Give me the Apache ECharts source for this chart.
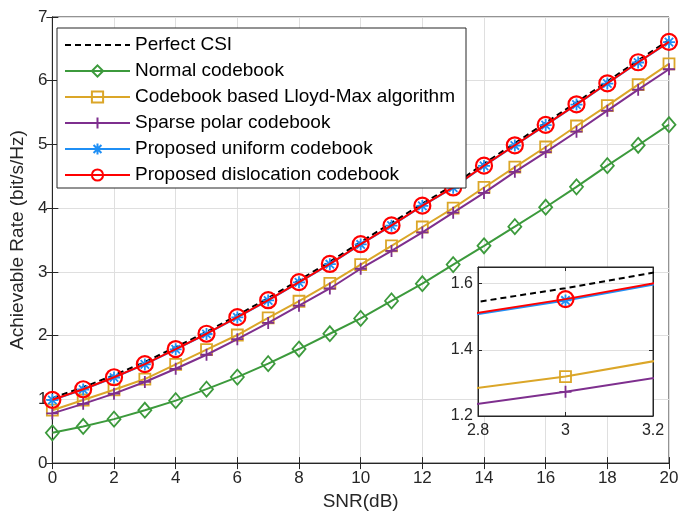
<!DOCTYPE html>
<html><head><meta charset="utf-8">
<script src="https://cdn.jsdelivr.net/npm/echarts@6/dist/echarts.min.js"></script>
<style>html,body{margin:0;padding:0;background:#fff}#c{width:691px;height:516px}</style>
</head><body><div id="c"></div>
<script>
var snr = [0,1,2,3,4,5,6,7,8,9,10,11,12,13,14,15,16,17,18,19,20];
var perfectCSI = [1.02,1.19,1.38,1.586,1.82,2.06,2.32,2.59,2.87,3.16,3.47,3.77,4.07,4.36,4.70,5.02,5.34,5.66,5.99,6.32,6.64];
var normalCB   = [0.475,0.575,0.69,0.83,0.98,1.16,1.35,1.56,1.79,2.03,2.27,2.545,2.815,3.115,3.41,3.71,4.015,4.335,4.667,4.987,5.31];
var lloydCB    = [0.83,0.99,1.15,1.319,1.55,1.78,2.01,2.28,2.54,2.82,3.115,3.41,3.705,4.00,4.325,4.645,4.96,5.29,5.61,5.94,6.265];
var sparseCB   = [0.78,0.93,1.09,1.273,1.48,1.70,1.945,2.20,2.47,2.74,3.05,3.33,3.62,3.93,4.24,4.57,4.88,5.20,5.53,5.86,6.18];
var uniformCB  = [0.99,1.155,1.343,1.549,1.786,2.026,2.286,2.552,2.836,3.121,3.431,3.726,4.036,4.321,4.663,4.983,5.304,5.626,5.956,6.286,6.606];
var dislocCB   = [0.993,1.159,1.347,1.553,1.79,2.03,2.29,2.556,2.84,3.125,3.435,3.73,4.04,4.325,4.667,4.987,5.308,5.63,5.96,6.29,6.61];
var names = ['Perfect CSI','Normal codebook','Codebook based Lloyd-Max algorithm','Sparse polar codebook','Proposed uniform codebook','Proposed dislocation codebook'];
var xTicks = [0,2,4,6,8,10,12,14,16,18,20];
var yTicks = [0,1,2,3,4,5,6,7];
var insetX = [2.8,3,3.2];
var insetY = [1.2,1.4,1.6];

var FONT = '"Liberation Sans", Arial, sans-serif';
var TXT = '#262626';
var colors = ['#000000','#3c9a3c','#dba628','#7e2f8e','#1f8ff5','#ff0000'];
var plusPath = 'path://M5,0L5,10M0,5L10,5';
var starPath = 'path://M5,0L5,10M0,5L10,5M1.5,1.5L8.5,8.5M8.5,1.5L1.5,8.5';
var datas = [perfectCSI, normalCB, lloydCB, sparseCB, uniformCB, dislocCB];
var symbols = ['circle','diamond','rect',plusPath,starPath,'circle'];
var sizes = [1,[13,15],11,12,12,16];
var CLEAR = 'rgba(0,0,0,0)';

function pairs(arr){ return snr.map(function(x,i){return [x,arr[i]];}); }

var series = [];
[0,1].forEach(function(g){
  for (var k=0;k<6;k++){
    var isPath = (k===3||k===4);
    var item;
    if (k===0) item = {color: CLEAR, borderColor: CLEAR, borderWidth: 0};
    else item = {color: isPath ? colors[k] : 'rgba(255,255,255,0)', borderColor: colors[k], borderWidth: k===5?2.2:1.8};
    series.push({
      name: names[k], type:'line', xAxisIndex: g===0?0:2, yAxisIndex: g===0?0:2,
      data: pairs(datas[k]), clip: true,
      symbol: symbols[k], symbolSize: sizes[k], showSymbol: k!==0,
      lineStyle: {color: colors[k], width: 2, type: k===0?[6,4]:'solid'},
      itemStyle: item,
      emphasis: {disabled:true}, animation:false, z: (g===0?2:15)+k
    });
  }
});

function tickLab(sz, margin, extra){
  return Object.assign({color: TXT, fontFamily: FONT, fontSize: sz, margin: margin}, extra||{});
}
var option = {
  animation:false,
  backgroundColor:'#fff',
  grid:[
    {left:48, top:17, width:621, height:451, show:true, borderColor:TXT, borderWidth:1, backgroundColor:'#fff'},
    {left:478, top:267, width:175, height:149, show:true, borderColor:TXT, borderWidth:1, backgroundColor:'#fff', z:10}
  ],
  legend:{
    data: names, orient:'vertical', left:57, top:28,
    padding:[6,11,2,7], itemGap:4, itemWidth:65, itemHeight:14,
    backgroundColor:'#fff', borderColor:TXT, borderWidth:1,
    textStyle:{color:'#000', fontFamily:FONT, fontSize:19, lineHeight:22}, z:20, selectedMode:false
  },
  xAxis:[
    {gridIndex:0, type:'value', min:0, max:20, interval:2, name:'SNR(dB)', nameLocation:'middle', nameGap:22,
      nameTextStyle:{color:TXT, fontFamily:FONT, fontSize:19},
      axisLine:{lineStyle:{color:TXT}}, axisTick:{inside:true, length:6, lineStyle:{color:TXT}},
      axisLabel:tickLab(17,7), splitLine:{lineStyle:{color:'#dfdfdf'}}},
    {gridIndex:0, type:'value', position:'top', min:0, max:20, interval:2,
      axisLine:{lineStyle:{color:TXT}}, axisTick:{inside:true, length:6, lineStyle:{color:TXT}},
      axisLabel:{show:false}, splitLine:{show:false}},
    {gridIndex:1, type:'value', min:2.8, max:3.2, interval:0.2, z:11,
      axisLine:{lineStyle:{color:TXT}}, axisTick:{inside:true, length:4, lineStyle:{color:TXT}},
      axisLabel:tickLab(16,7,{formatter:function(v){return +v.toFixed(1)+'';}}), splitLine:{lineStyle:{color:'#dfdfdf'}}},
    {gridIndex:1, type:'value', position:'top', min:2.8, max:3.2, interval:0.2, z:11,
      axisLine:{lineStyle:{color:TXT}}, axisTick:{inside:true, length:4, lineStyle:{color:TXT}},
      axisLabel:{show:false}, splitLine:{show:false}}
  ],
  yAxis:[
    {gridIndex:0, type:'value', min:0, max:7, interval:1, name:'Achievable Rate (bit/s/Hz)', nameLocation:'middle', nameGap:17,
      nameTextStyle:{color:TXT, fontFamily:FONT, fontSize:19},
      axisLine:{show:true, lineStyle:{color:TXT}}, axisTick:{show:true, inside:true, length:6, lineStyle:{color:TXT}},
      axisLabel:tickLab(17,5), splitLine:{lineStyle:{color:'#dfdfdf'}}},
    {gridIndex:0, type:'value', position:'right', min:0, max:7, interval:1,
      axisLine:{show:true, lineStyle:{color:TXT}}, axisTick:{show:true, inside:true, length:6, lineStyle:{color:TXT}},
      axisLabel:{show:false}, splitLine:{show:false}},
    {gridIndex:1, type:'value', min:1.2, max:1.65, interval:0.2, z:11,
      axisLine:{show:true, lineStyle:{color:TXT}}, axisTick:{show:true, inside:true, length:4, lineStyle:{color:TXT}},
      axisLabel:tickLab(16,5,{showMaxLabel:false, formatter:function(v){return v.toFixed(1);}}), splitLine:{lineStyle:{color:'#dfdfdf'}}},
    {gridIndex:1, type:'value', position:'right', min:1.2, max:1.65, interval:0.2, z:11,
      axisLine:{show:true, lineStyle:{color:TXT}}, axisTick:{show:true, inside:true, length:4, lineStyle:{color:TXT}},
      axisLabel:{show:false}, splitLine:{show:false}}
  ],
  series: series
};
var chart = echarts.init(document.getElementById('c'), null, {renderer:'canvas'});
chart.setOption(option);
</script></body></html>
